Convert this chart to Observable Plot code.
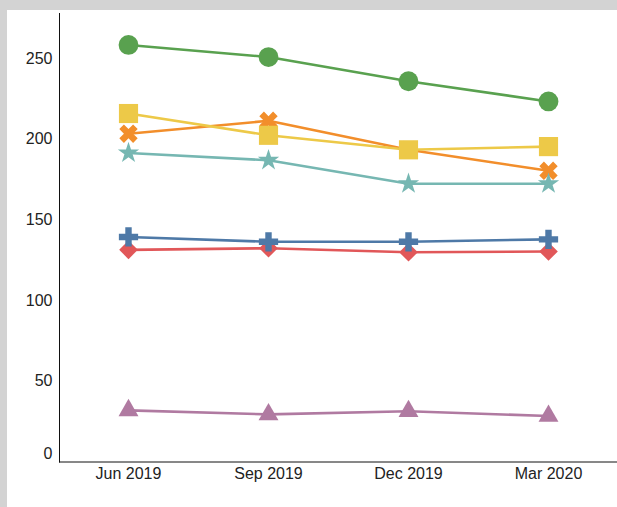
<!DOCTYPE html>
<html>
<head>
<meta charset="utf-8">
<script src="https://cdn.jsdelivr.net/npm/d3@7"></script>
<script src="https://cdn.jsdelivr.net/npm/@observablehq/plot@0.6"></script>
<style>
  html, body { margin: 0; padding: 0; background: #d3d3d3; width: 617px; height: 507px; overflow: hidden; }
  #panel { position: absolute; left: 7px; top: 10px; width: 610px; height: 497px; background: #fff; }
  #panel svg { display: block; }
</style>
</head>
<body>
<div id="panel"></div>
<script>
// ---- data ----
const quarters = ["Jun 2019", "Sep 2019", "Dec 2019", "Mar 2020"];
const seriesNames = ["Red", "Blue", "Orange", "Teal", "Yellow", "Green", "Purple"];
const redValues    = [131.5, 132.5, 130.0, 130.5];
const blueValues   = [139.5, 136.5, 136.5, 138.0];
const orangeValues = [203.5, 211.5, 193.5, 180.5];
const tealValues   = [191.5, 187.0, 172.5, 172.5];
const yellowValues = [216.0, 202.5, 193.5, 195.5];
const greenValues  = [258.5, 251.0, 236.0, 223.5];
const purpleValues = [32.0, 29.5, 31.5, 28.5];
const yTicks = [0, 50, 100, 150, 200, 250];

const valuesBySeries = [redValues, blueValues, orangeValues, tealValues, yellowValues, greenValues, purpleValues];

// ---- styles ----
const filledX = {
  draw(context, size) {
    const r = Math.sqrt(size / 5) / 2;
    const pts = [[-3*r,-r],[-r,-r],[-r,-3*r],[r,-3*r],[r,-r],[3*r,-r],[3*r,r],[r,r],[r,3*r],[-r,3*r],[-r,r],[-3*r,r]];
    const s = Math.SQRT1_2;
    pts.forEach(([x, y], i) => {
      const X = (x - y) * s, Y = (x + y) * s;
      if (i === 0) context.moveTo(X, Y); else context.lineTo(X, Y);
    });
    context.closePath();
  }
};
const styles = {
  Red:    {color: "#e15759", symbol: "diamond2", r: 8.4},
  Blue:   {color: "#4e79a7", symbol: "cross",    r: 8.1},
  Orange: {color: "#f28e2b", symbol: filledX,    r: 8.2},
  Teal:   {color: "#76b7b2", symbol: "star",     r: 6.7},
  Yellow: {color: "#edc948", symbol: "square",   r: 10.8},
  Green:  {color: "#59a14f", symbol: "circle",   r: 9.9},
  Purple: {color: "#b07aa1", symbol: "triangle", r: 7.4}
};

const marks = [];
seriesNames.forEach((name, si) => {
  const rows = quarters.map((q, i) => ({quarter: q, value: valuesBySeries[si][i]}));
  const st = styles[name];
  marks.push(Plot.line(rows, {x: "quarter", y: "value", stroke: st.color, strokeWidth: 2.6}));
  marks.push(Plot.dot(rows, {x: "quarter", y: "value", fill: st.color, stroke: "none", symbol: st.symbol, r: st.r}));
});

const chart = Plot.plot({
  width: 610,
  height: 497,
  marginLeft: 52,
  marginRight: 0,
  marginTop: 3,
  marginBottom: 45.5,
  style: {fontFamily: "'Liberation Sans', Arial, sans-serif", fontSize: "16px", color: "#222", background: "#fff"},
  x: {type: "point", domain: quarters, range: [121, 541], padding: 0},
  y: {domain: [0, 278]},
  marks: [
    Plot.frame({anchor: "left", stroke: "#111", strokeOpacity: 1}),
    Plot.ruleY([0], {stroke: "#111"}),
    Plot.axisX({tickSize: 0, tickPadding: 6, label: null, fill: "#222"}),
    Plot.axisY({ticks: yTicks.filter(t => t !== 0), tickSize: 0, tickPadding: 7, label: null, fill: "#222"}),
    Plot.axisY({ticks: [0], tickSize: 0, tickPadding: 7, label: null, fill: "#222", dy: -8.5}),
    ...marks
  ]
});
document.getElementById("panel").appendChild(chart);
</script>
</body>
</html>
